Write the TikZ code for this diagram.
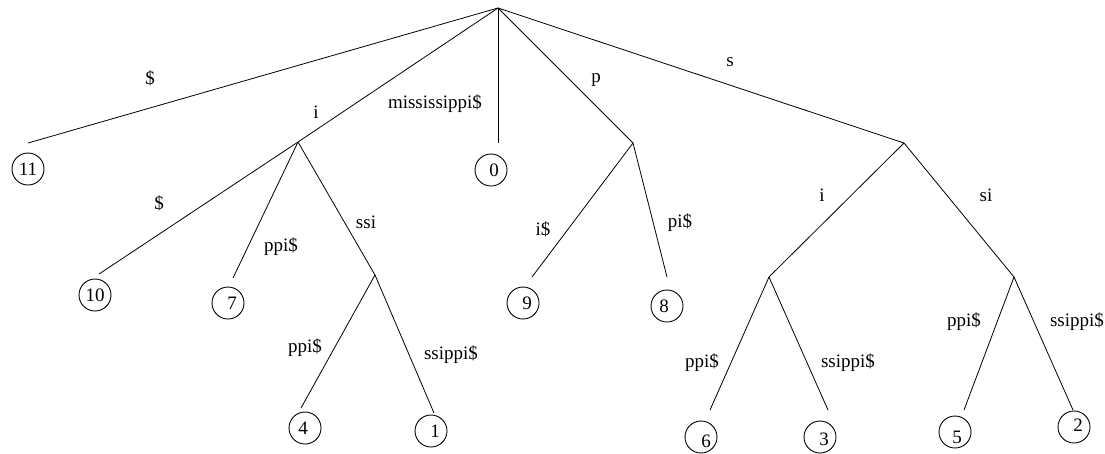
\documentclass[tikz,border=0pt]{standalone}
\usepackage{fontspec}
\setmainfont{Liberation Serif}
\begin{document}
\begin{tikzpicture}[x=1pt,y=-1pt,
  edge/.style={draw=black,line width=0.8pt},
  leaf/.style={circle,draw=black,line width=0.9pt,minimum size=32pt,inner sep=0pt},
  lbl/.style={font=\fontsize{19}{22}\selectfont,inner sep=0pt},
  num/.style={font=\fontsize{19}{22}\selectfont,inner sep=0pt}]
\useasboundingbox (0,0) rectangle (1105,453);
% internal nodes
\coordinate (root) at (498,8);
\coordinate (ni) at (298,142);
\coordinate (np) at (633,143);
\coordinate (ns) at (904,143);
\coordinate (nssi) at (375,275);
\coordinate (nsi) at (769,277);
\coordinate (nssi2) at (1014,277);
% leaf edge ends
\coordinate (e11) at (28,143);
\coordinate (e0) at (498,143);
\coordinate (e10) at (99,274);
\coordinate (e7) at (233,278);
\coordinate (e4) at (301,408);
\coordinate (e1) at (434,413);
\coordinate (e9) at (532,277);
\coordinate (e8) at (667,277);
\coordinate (e6) at (710,410);
\coordinate (e3) at (828,410);
\coordinate (e5) at (964,410);
\coordinate (e2) at (1073,410);
% leaves
\node[leaf,label={[num]center:11}] (n11) at (28,169) {};
\node[leaf,label={[num,xshift=3pt]center:0}] (n0) at (491,170) {};
\node[leaf,label={[num]center:10}] (n10) at (95,295) {};
\node[leaf,label={[num,xshift=4pt]center:7}] (n7) at (228,303) {};
\node[leaf,label={[num,xshift=-2pt]center:4}] (n4) at (305,428) {};
\node[leaf,label={[num,xshift=4pt]center:1}] (n1) at (431,431) {};
\node[leaf,label={[num,xshift=4pt]center:9}] (n9) at (523,303) {};
\node[leaf,label={[num,xshift=-3pt]center:8}] (n8) at (667,306) {};
\node[leaf,label={[num,xshift=5pt,yshift=-4pt]center:6}] (n6) at (701,437) {};
\node[leaf,label={[num,xshift=4pt,yshift=-2pt]center:3}] (n3) at (820,437) {};
\node[leaf,label={[num,xshift=2pt,yshift=-5pt]center:5}] (n5) at (955,432) {};
\node[leaf,label={[num,xshift=4pt,yshift=2pt]center:2}] (n2) at (1074,427) {};
% edges
\draw[edge] (root) -- (e11);
\draw[edge] (root) -- (ni);
\draw[edge] (root) -- (e0);
\draw[edge] (root) -- (np);
\draw[edge] (root) -- (ns);
\draw[edge] (ni) -- (e10);
\draw[edge] (ni) -- (e7);
\draw[edge] (ni) -- (nssi);
\draw[edge] (nssi) -- (e4);
\draw[edge] (nssi) -- (e1);
\draw[edge] (np) -- (e9);
\draw[edge] (np) -- (e8);
\draw[edge] (ns) -- (nsi);
\draw[edge] (ns) -- (nssi2);
\draw[edge] (nsi) -- (e6);
\draw[edge] (nsi) -- (e3);
\draw[edge] (nssi2) -- (e5);
\draw[edge] (nssi2) -- (e2);
% labels
\node[lbl] (l1) at (150,78) {\$};
\node[lbl] (l2) at (316,112) {i};
\node[lbl] (l3) at (435,104) {mississippi\$};
\node[lbl] (l4) at (596,80) {p};
\node[lbl] (l5) at (730,62) {s};
\node[lbl] (l6) at (159,203) {\$};
\node[lbl] (l7) at (281,247) {ppi\$};
\node[lbl] (l8) at (366,222) {ssi};
\node[lbl] (l9) at (305,348) {ppi\$};
\node[lbl] (l10) at (451,355) {ssippi\$};
\node[lbl] (l11) at (543,229) {i\$};
\node[lbl] (l12) at (680,223) {pi\$};
\node[lbl] (l13) at (822,195) {i};
\node[lbl] (l14) at (986,195) {si};
\node[lbl] (l15) at (702,363) {ppi\$};
\node[lbl] (l16) at (848,363) {ssippi\$};
\node[lbl] (l17) at (964,322) {ppi\$};
\node[lbl] (l18) at (1077,322) {ssippi\$};
\end{tikzpicture}
\end{document}
